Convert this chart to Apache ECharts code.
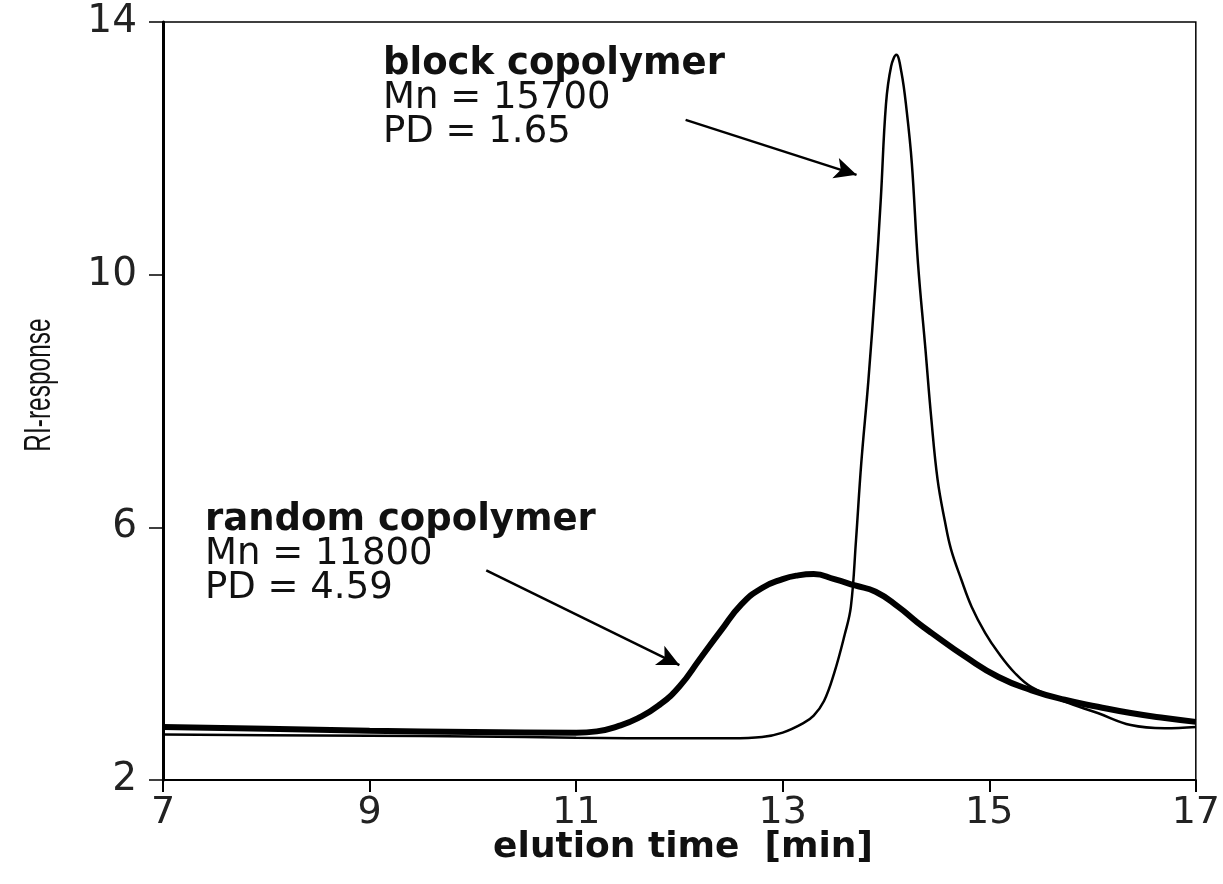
<!DOCTYPE html>
<html>
<head>
<meta charset="utf-8">
<script src="https://cdn.jsdelivr.net/npm/echarts@6/dist/echarts.min.js"></script>
<style>
html,body{margin:0;padding:0;background:#fff;}
#chart{width:1223px;height:884px;}
</style>
</head>
<body>
<div id="chart"></div>
<script>
// elution time [min] and RI-response values
var blockTime = [7.0, 8.0, 9.0, 10.0, 11.0, 12.0, 12.5, 12.8, 13.0, 13.2, 13.3, 13.4, 13.5, 13.6, 13.66, 13.71, 13.76, 13.83, 13.9, 13.95, 14.0, 14.05, 14.1, 14.15, 14.2, 14.25, 14.31, 14.38, 14.44, 14.5, 14.57, 14.63, 14.73, 14.83, 14.96, 15.09, 15.25, 15.41, 15.73, 16.05, 16.37, 16.7, 17.0];
var blockRI   = [2.72, 2.71, 2.70, 2.69, 2.67, 2.66, 2.66, 2.68, 2.75, 2.90, 3.02, 3.25, 3.70, 4.30, 4.74, 5.80, 7.00, 8.33, 9.90, 11.20, 12.70, 13.30, 13.48, 13.20, 12.60, 11.77, 10.18, 8.86, 7.70, 6.75, 6.10, 5.65, 5.17, 4.74, 4.33, 4.01, 3.69, 3.47, 3.24, 3.06, 2.87, 2.82, 2.84];

var randomTime = [7.0, 8.0, 9.0, 10.0, 11.0, 11.2, 11.4, 11.6, 11.8, 12.0, 12.2, 12.4, 12.6, 12.8, 13.0, 13.15, 13.3, 13.5, 13.7, 13.9, 14.12, 14.3, 14.44, 14.77, 15.09, 15.41, 15.73, 16.05, 16.37, 16.7, 17.0];
var randomRI   = [2.84, 2.81, 2.78, 2.76, 2.75, 2.77, 2.85, 2.98, 3.18, 3.48, 3.92, 4.36, 4.78, 5.04, 5.18, 5.24, 5.26, 5.18, 5.08, 4.98, 4.74, 4.50, 4.33, 3.95, 3.63, 3.42, 3.27, 3.16, 3.06, 2.98, 2.92];

var xTicks = [7, 9, 11, 13, 15, 17];
var yTicks = [2, 6, 10, 14];

// annotation texts and arrows (arrow ends in data units)
var blockLabel  = ['block copolymer', 'Mn = 15700', 'PD = 1.65'];
var randomLabel = ['random copolymer', 'Mn = 11800', 'PD = 4.59'];
var blockArrow  = [[12.06, 12.45], [13.715, 11.58]];
var randomArrow = [[10.13, 5.32], [12.0, 3.82]];
var yTitle = 'RI-response';
var xTitle = 'elution time  [min]';

function pairs(xs, ys) { return xs.map(function (x, i) { return [x, ys[i]]; }); }

var chart = echarts.init(document.getElementById('chart'), null, {renderer: 'canvas'});
var tickFont = 'DejaVu Sans';

function annot(lines, left, top) {
  var out = [];
  for (var i = 0; i < lines.length; i++) {
    out.push({
      type: 'text', left: left, top: top + i * 34, z: 10,
      style: {
        text: lines[i], fill: '#111',
        font: (i === 0 ? 'bold ' : '') + '37px "DejaVu Sans"'
      }
    });
  }
  return out;
}

chart.setOption({
  animation: false,
  backgroundColor: '#fff',
  grid: {left: 163, right: 25, top: 22, bottom: 104, show: true, borderColor: '#000', borderWidth: 1.5, backgroundColor: 'transparent'},
  xAxis: {
    type: 'value', min: xTicks[0], max: xTicks[xTicks.length - 1], interval: 2,
    axisLine: {lineStyle: {color: '#000', width: 2}},
    axisTick: {inside: false, length: 12, lineStyle: {color: '#000', width: 2}},
    axisLabel: {margin: 14, fontFamily: tickFont, fontSize: 38, color: '#222'},
    splitLine: {show: false}
  },
  yAxis: {
    type: 'value', min: yTicks[0], max: yTicks[yTicks.length - 1], interval: 4,
    axisLine: {lineStyle: {color: '#000', width: 3}},
    axisTick: {inside: false, length: 14, lineStyle: {color: '#000', width: 1.5}},
    axisLabel: {margin: 26, fontFamily: tickFont, fontSize: 39, color: '#222'},
    splitLine: {show: false}
  },
  series: [
    {
      name: 'random copolymer', type: 'line', data: pairs(randomTime, randomRI),
      showSymbol: false, smooth: 0.5,
      lineStyle: {color: '#000', width: 6}, z: 3
    },
    {
      name: 'block copolymer', type: 'line', data: pairs(blockTime, blockRI),
      showSymbol: false, smooth: 0.4,
      lineStyle: {color: '#000', width: 2.5}, z: 4,
      markLine: {
        silent: true, symbol: ['none', 'arrow'], symbolSize: [16, 22],
        lineStyle: {color: '#000', width: 2.5, type: 'solid'},
        label: {show: false},
        data: [
          [{coord: blockArrow[0]}, {coord: blockArrow[1]}],
          [{coord: randomArrow[0]}, {coord: randomArrow[1]}]
        ]
      }
    }
  ],
  graphic: annot(blockLabel, 383, 46).concat(annot(randomLabel, 205, 502)).concat([
    {
      type: 'text', x: 40, y: 385, rotation: Math.PI / 2, scaleX: 0.68, z: 10,
      style: {text: yTitle, fill: '#111', font: '36px "Liberation Sans"', align: 'center', verticalAlign: 'middle'}
    },
    {
      type: 'text', x: 683, y: 848, z: 10,
      style: {text: xTitle, fill: '#111', font: 'bold 36px "DejaVu Sans"', align: 'center', verticalAlign: 'middle'}
    }
  ])
});
</script>
</body>
</html>
